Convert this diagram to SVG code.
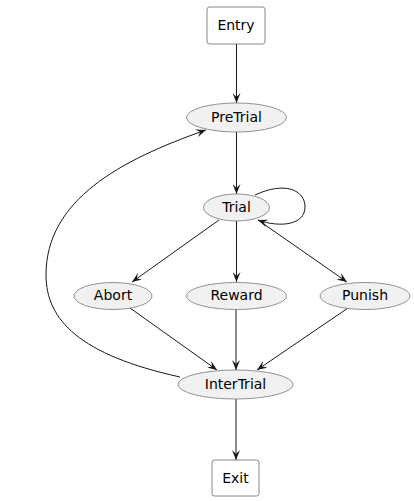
<svg xmlns="http://www.w3.org/2000/svg" width="414" height="501" viewBox="0 0 414 501">
<defs>
<marker id="arr" viewBox="0 0 10 8" refX="10" refY="4" markerWidth="10" markerHeight="8" markerUnits="userSpaceOnUse" orient="auto">
<path d="M0,0 L10,4 L0,8 L4,4 z" fill="#181818"/>
</marker>
</defs>
<style>
.box{fill:#ffffff;stroke:#666666;stroke-width:0.8}
.st{fill:#f1f1f1;stroke:#777777;stroke-width:0.8}
.lbl{font-family:"DejaVu Sans",sans-serif;font-size:14px;fill:#000000;text-anchor:middle}
.e{fill:none;stroke:#181818;stroke-width:1;marker-end:url(#arr)}
</style>
<rect width="414" height="501" fill="#ffffff"/>
<g id="connectors">
<path class="e" d="M236.5,44 L236.5,103"/>
<path class="e" d="M236.5,132 L236.5,194"/>
<path class="e" d="M255,195 C285,181 305,190 305,207 C305,225 280,228 258,220"/>
<path class="e" d="M219,220 L132,282"/>
<path class="e" d="M236.5,221 L236.5,282"/>
<path class="e" d="M258,220 L347,282"/>
<path class="e" d="M130,308 L217,370"/>
<path class="e" d="M236,309 L236,370"/>
<path class="e" d="M348,308 L257,370"/>
<path class="e" d="M180,377 C80,355 46,320 46,275 C46,200 120,160 206,130"/>
<path class="e" d="M236,399 L236,460"/>
</g>
<g id="Entry">
<rect class="box" x="207" y="7" width="58" height="37" rx="2.5"/>
<text class="lbl" x="236" y="30">Entry</text>
</g>
<g id="PreTrial">
<ellipse class="st" cx="236.5" cy="117.5" rx="50" ry="14.5"/>
<text class="lbl" x="236.5" y="121.5">PreTrial</text>
</g>
<g id="Trial">
<ellipse class="st" cx="236.5" cy="207.5" rx="33" ry="13.5"/>
<text class="lbl" x="236.5" y="211.5">Trial</text>
</g>
<g id="Abort">
<ellipse class="st" cx="113" cy="296" rx="39" ry="13.5"/>
<text class="lbl" x="113" y="299.5">Abort</text>
</g>
<g id="Reward">
<ellipse class="st" cx="236.5" cy="296" rx="50" ry="13.5"/>
<text class="lbl" x="236.5" y="299.5">Reward</text>
</g>
<g id="Punish">
<ellipse class="st" cx="365" cy="296" rx="45" ry="13.5"/>
<text class="lbl" x="365" y="299.5">Punish</text>
</g>
<g id="InterTrial">
<ellipse class="st" cx="235.5" cy="384.5" rx="57.5" ry="14.5"/>
<text class="lbl" x="235.5" y="388.5">InterTrial</text>
</g>
<g id="Exit">
<rect class="box" x="212" y="460" width="47" height="36" rx="2.5"/>
<text class="lbl" x="235.5" y="483">Exit</text>
</g>
</svg>
